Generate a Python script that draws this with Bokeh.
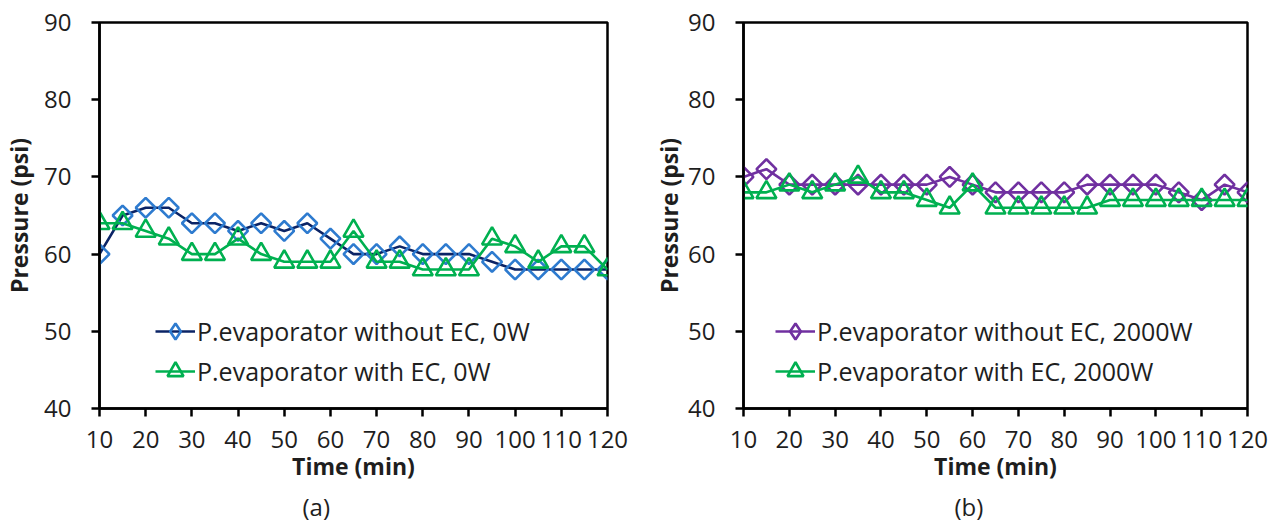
from bokeh.plotting import figure
from bokeh.layouts import row
from bokeh.models import FixedTicker, Legend, Title
from bokeh.embed import file_html
from bokeh.resources import INLINE
import math

# ---------------- data ----------------
time_min = [10, 15, 20, 25, 30, 35, 40, 45, 50, 55, 60, 65, 70, 75, 80, 85, 90, 95, 100, 105, 110, 115, 120]

a_without_ec = [60, 65, 66, 66, 64, 64, 63, 64, 63, 64, 62, 60, 60, 61, 60, 60, 60, 59, 58, 58, 58, 58, 58]
a_with_ec    = [64, 64, 63, 62, 60, 60, 62, 60, 59, 59, 59, 63, 59, 59, 58, 58, 58, 62, 61, 59, 61, 61, 58]

b_without_ec = [70, 71, 69, 69, 69, 69, 69, 69, 69, 70, 69, 68, 68, 68, 68, 69, 69, 69, 69, 68, 67, 69, 68]
b_with_ec    = [68, 68, 69, 68, 69, 70, 68, 68, 67, 66, 69, 66, 66, 66, 66, 66, 67, 67, 67, 67, 67, 67, 67]

x_ticks = [10, 20, 30, 40, 50, 60, 70, 80, 90, 100, 110, 120]
y_ticks = [40, 50, 60, 70, 80, 90]

a_labels = ["P.evaporator without EC, 0W", "P.evaporator with EC, 0W"]
b_labels = ["P.evaporator without EC, 2000W", "P.evaporator with EC, 2000W"]

FONT = "Open Sans"
TXT = "#1e1e1e"
GREEN = "#00B050"
NAN = float("nan")


def make_panel(width, border_left, plot_px, s1, s2, labels, c1_line, c1_mark,
               legend_x, panel_tag, tag_offset, ylabel_standoff):
    p = figure(width=width, height=526, x_range=(10, 120), y_range=(40, 90),
               output_backend="svg", toolbar_location=None,
               min_border_left=border_left,
               min_border_right=width - border_left - plot_px,
               min_border_top=22, min_border_bottom=118)
    p.background_fill_color = "white"
    p.border_fill_color = "white"
    p.outline_line_color = "black"
    p.outline_line_width = 2.5
    p.xgrid.visible = False
    p.ygrid.visible = False

    for ax in (p.xaxis[0], p.yaxis[0]):
        ax.axis_line_color = "black"
        ax.axis_line_width = 2.5
        ax.major_tick_line_color = "black"
        ax.major_tick_line_width = 2.5
        ax.major_tick_out = 8
        ax.major_tick_in = 0
        ax.minor_tick_out = 0
        ax.minor_tick_in = 0
        ax.major_label_text_font = FONT
        ax.major_label_text_font_size = "24px"
        ax.major_label_text_color = TXT
        ax.axis_label_text_font = FONT
        ax.axis_label_text_font_style = "bold"
        ax.axis_label_text_font_size = "23px"
        ax.axis_label_text_color = TXT

    p.xaxis.ticker = FixedTicker(ticks=x_ticks)
    p.yaxis.ticker = FixedTicker(ticks=y_ticks)
    p.xaxis.major_label_standoff = 14
    p.yaxis.major_label_standoff = 20

    p.yaxis.axis_label = "Pressure (psi)"
    p.xaxis.axis_label = "Time (min)"
    p.yaxis.axis_label_standoff = ylabel_standoff
    p.xaxis.axis_label_standoff = -1

    r1l = p.line(time_min, s1, line_color=c1_line, line_width=2.6)
    p.scatter(time_min, s1, marker="square", angle=math.pi / 4, size=14,
              line_color=c1_mark, line_width=2.6, fill_color=None)
    r2l = p.line(time_min, s2, line_color=GREEN, line_width=2.6)
    r2m = p.scatter(time_min, s2, marker="triangle", size=20,
                    line_color=GREEN, line_width=2.6, fill_color=None)
    # legend-only glyph (diamond key), no data drawn in the plot
    key1 = p.scatter([NAN], [NAN], marker="diamond", size=16,
                     line_color=c1_mark, line_width=2.6, fill_color=None)

    legend = Legend(items=[(labels[0], [r1l, key1]), (labels[1], [r2l, r2m])],
                    location=(legend_x, 17))
    legend.border_line_color = None
    legend.background_fill_alpha = 0
    legend.padding = 0
    legend.margin = 0
    legend.spacing = -3
    legend.glyph_width = 40
    legend.glyph_height = 40
    legend.label_standoff = 2
    legend.label_text_font = FONT
    legend.label_text_font_size = "25px"
    legend.label_text_color = TXT
    p.add_layout(legend)

    p.add_layout(Title(text=panel_tag, align="left", offset=tag_offset, standoff=7,
                       text_font=FONT, text_font_style="normal",
                       text_font_size="24px", text_color=TXT), "below")
    return p


pa = make_panel(640, 99, 508, a_without_ec, a_with_ec, a_labels, "#0B2466", "#2E7BCF",
                56, "(a)", 203, 6)
pb = make_panel(630, 103, 504, b_without_ec, b_with_ec, b_labels, "#7030A0", "#7030A0",
                32, "(b)", 211, 0)

layout = row(pa, pb)
open("out.html", "w").write(file_html(layout, INLINE))
